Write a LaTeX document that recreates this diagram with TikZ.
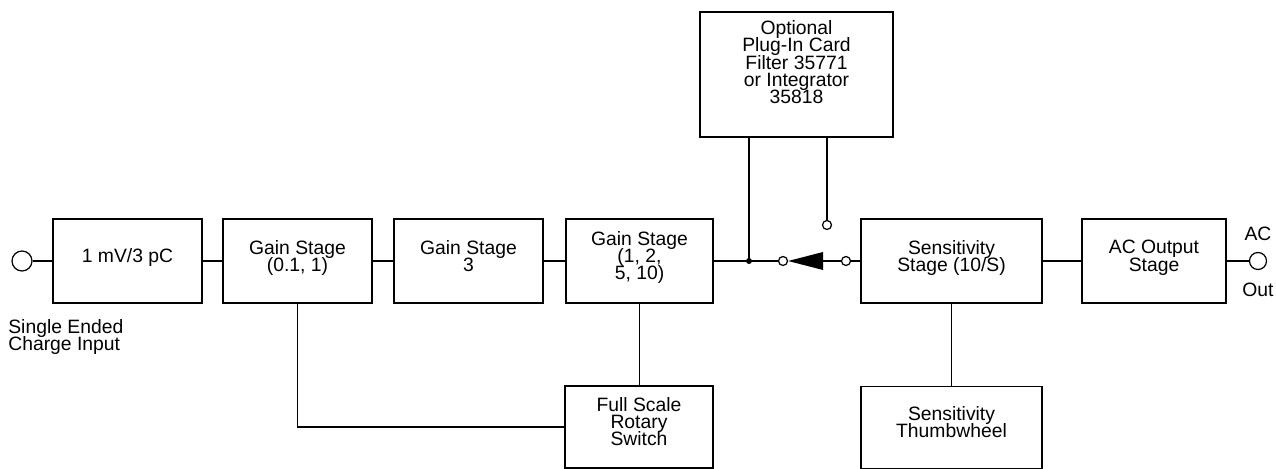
\documentclass[tikz,border=0pt]{standalone}
\usepackage{fontspec}
\setmainfont{Liberation Sans}
\usetikzlibrary{calc}

\newcommand\blockfont{\fontsize{11}{9.8}\selectfont\lineskiplimit=-20pt\relax}

\tikzset{
  block/.style 2 args={draw, line width=0.7pt, align=center, inner sep=0pt,
    minimum width=#1*0.02cm, minimum height=#2*0.02cm, text depth=6pt,
    font=\blockfont},
  terminal/.style={draw, circle, line width=0.7pt, inner sep=0pt, minimum size=#1*0.02cm},
  wire/.style={line width=0.7pt},
  lbl/.style={font=\blockfont, inner sep=0pt}
}

\begin{document}
\begin{tikzpicture}[x=0.02cm, y=-0.02cm]
  \useasboundingbox (0,0) rectangle (1276,469);
  % signal chain
  \node[terminal=20] (in) at (22,261) {};
  \node[block={149}{84}] (mv) at (127.5,261) {1 mV/3 pC};
  \node[block={149}{84}] (g1) at (297.5,261) {Gain Stage\\(0.1, 1)};
  \node[block={149}{84}] (g3) at (468.5,261) {Gain Stage\\3};
  \node[block={147}{84}] (g10) at (639.5,261) {Gain Stage\\(1, 2,\\5, 10)};
  \node[block={181}{84}] (sens) at (951.5,261) {Sensitivity\\Stage (10/S)};
  \node[block={144}{84}] (acout) at (1154,261) {AC Output\\Stage};
  \node[terminal=17] (out) at (1258,261) {};
  \node[lbl, above=6pt] at (out.north) {AC};
  \node[lbl, below=7pt] at (out.south) {Out};
  \node[lbl, anchor=north west, align=left] (inlbl) at (8,319) {Single Ended\\Charge Input};
  % plug-in card and switch
  \node[block={193}{125}, text depth=14pt] (opt) at (796.5,74.5)
    {Optional\\Plug-In Card\\Filter 35771\\or Integrator\\35818};
  \coordinate (jn) at (749,261);
  \node[terminal=9] (c1) at (783,261) {};
  \node[terminal=9] (c2) at (827,225) {};
  \node[terminal=9] (pole) at (846,261) {};
  \coordinate (blade) at (823,261);
  % controls
  \node[block={148}{82}] (fsr) at (639,427) {Full Scale\\Rotary\\Switch};
  \node[block={181}{82}] (thumb) at (951.5,427.5) {Sensitivity\\Thumbwheel};

  \draw[wire] (in) -- (mv);
  \draw[wire] (mv) -- (g1);
  \draw[wire] (g1) -- (g3);
  \draw[wire] (g3) -- (g10);
  \draw[wire] (g10) -- (jn) -- (c1);
  \fill[black] (jn) circle (3);
  \draw[wire] (jn) -- (jn |- opt.south);
  \draw[wire] (c2) -- (c2 |- opt.south);
  \fill (blade) ++(0,-9) -- (c1.east) -- ($(blade)+(0,9)$) -- cycle;
  \draw[wire] (blade) -- (pole);
  \draw[wire] (pole) -- (sens);
  \draw[wire] (sens) -- (acout);
  \draw[wire] (acout) -- (out);
  \draw[wire] (g1.south) |- (fsr.west);
  \draw[wire] (g10.south) -- (g10.south |- fsr.north);
  \draw[wire] (sens.south) -- (thumb.north);
\end{tikzpicture}
\end{document}
